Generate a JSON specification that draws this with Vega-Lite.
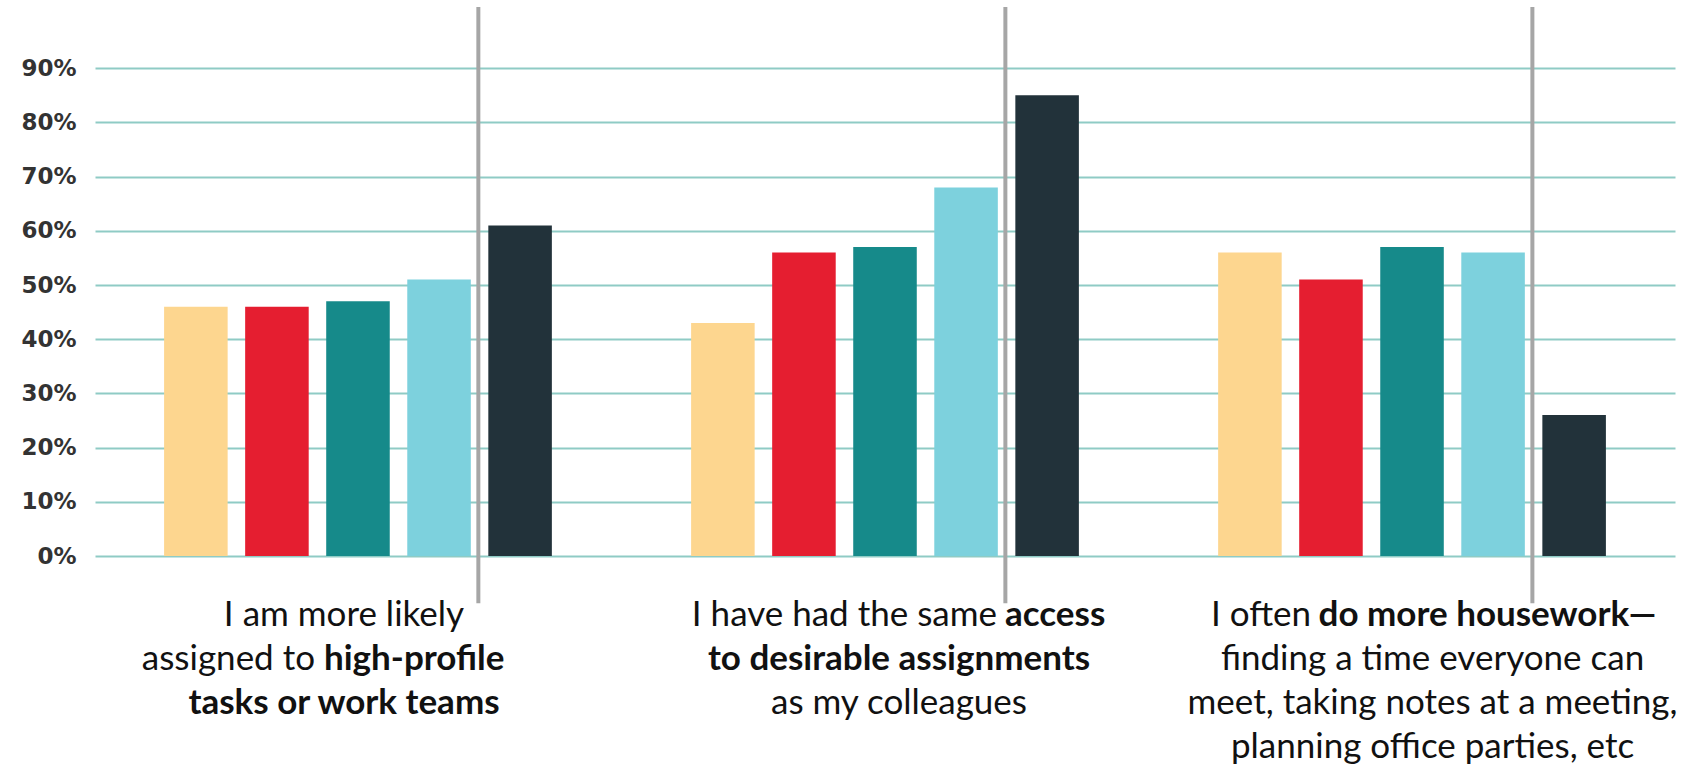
{
  "$schema": "https://vega.github.io/schema/vega-lite/v6.json",
  "width": 1580,
  "height": 542,
  "autosize": {"type": "none"},
  "padding": {"left": 95, "top": 14, "right": 28, "bottom": 211},
  "background": "white",
  "config": {"view": {"stroke": null}},
  "datasets": {
    "bars": [
      {"q": "High-profile tasks", "series": "Series 1", "value": 46},
      {"q": "High-profile tasks", "series": "Series 2", "value": 46},
      {"q": "High-profile tasks", "series": "Series 3", "value": 47},
      {"q": "High-profile tasks", "series": "Series 4", "value": 51},
      {"q": "High-profile tasks", "series": "Series 5", "value": 61},
      {"q": "Access to assignments", "series": "Series 1", "value": 43},
      {"q": "Access to assignments", "series": "Series 2", "value": 56},
      {"q": "Access to assignments", "series": "Series 3", "value": 57},
      {"q": "Access to assignments", "series": "Series 4", "value": 68},
      {"q": "Access to assignments", "series": "Series 5", "value": 85},
      {"q": "Housework", "series": "Series 1", "value": 56},
      {"q": "Housework", "series": "Series 2", "value": 51},
      {"q": "Housework", "series": "Series 3", "value": 57},
      {"q": "Housework", "series": "Series 4", "value": 56},
      {"q": "Housework", "series": "Series 5", "value": 26}
    ],
    "dividers": [
      {"q": "High-profile tasks"},
      {"q": "Access to assignments"},
      {"q": "Housework"}
    ],
    "labels": [
      {"q": "High-profile tasks", "line": 1, "part": "whole", "emphasis": false, "text": "I am more likely"},
      {"q": "High-profile tasks", "line": 2, "part": "lead", "emphasis": false, "text": "assigned to"},
      {"q": "High-profile tasks", "line": 2, "part": "tail", "emphasis": true, "text": "high-profile"},
      {"q": "High-profile tasks", "line": 3, "part": "whole", "emphasis": true, "text": "tasks or work teams"},
      {"q": "Access to assignments", "line": 1, "part": "lead", "emphasis": false, "text": "I have had the same"},
      {"q": "Access to assignments", "line": 1, "part": "tail", "emphasis": true, "text": "access"},
      {"q": "Access to assignments", "line": 2, "part": "whole", "emphasis": true, "text": "to desirable assignments"},
      {"q": "Access to assignments", "line": 3, "part": "whole", "emphasis": false, "text": "as my colleagues"},
      {"q": "Housework", "line": 1, "part": "lead", "emphasis": false, "text": "I often"},
      {"q": "Housework", "line": 1, "part": "tail", "emphasis": true, "text": "do more housework—"},
      {"q": "Housework", "line": 2, "part": "whole", "emphasis": false, "text": "finding a time everyone can"},
      {"q": "Housework", "line": 3, "part": "whole", "emphasis": false, "text": "meet, taking notes at a meeting,"},
      {"q": "Housework", "line": 4, "part": "whole", "emphasis": false, "text": "planning office parties, etc"}
    ]
  },
  "layer": [
    {
      "layer": [
        {
          "data": {"name": "bars"},
          "mark": {"type": "bar"},
          "encoding": {
            "x": {
              "field": "q", "type": "nominal",
              "scale": {"domain": ["High-profile tasks", "Access to assignments", "Housework"], "paddingInner": 0.231, "paddingOuter": 0.1145},
              "axis": null
            },
            "xOffset": {
              "field": "series", "type": "nominal",
              "scale": {"paddingInner": 0.216, "paddingOuter": 0.108}
            },
            "y": {
              "field": "value", "type": "quantitative",
              "scale": {"domain": [0, 100], "nice": false},
              "axis": {
                "values": [0, 10, 20, 30, 40, 50, 60, 70, 80, 90],
                "labelExpr": "datum.value + '%'",
                "title": null,
                "ticks": false,
                "domain": false,
                "grid": true,
                "gridColor": "#8fcbc5",
                "gridWidth": 2,
                "gridOpacity": 1,
                "labelFont": "DejaVu Sans",
                "labelFontWeight": "bold",
                "labelFontSize": 23,
                "labelColor": "#333333",
                "labelPadding": 19
              }
            },
            "color": {
              "field": "series", "type": "nominal",
              "scale": {
                "domain": ["Series 1", "Series 2", "Series 3", "Series 4", "Series 5"],
                "range": ["#fdd68f", "#e51e30", "#168a8a", "#7dd1dd", "#22323a"]
              },
              "legend": null
            }
          }
        },
        {
          "data": {"name": "dividers"},
          "mark": {"type": "rule", "color": "#a6a6a6", "strokeWidth": 4},
          "encoding": {
            "x": {"field": "q", "type": "nominal", "bandPosition": 0.797},
            "y": {"datum": 101.3},
            "y2": {"datum": -8.7}
          }
        }
      ]
    },
    {
      "data": {"name": "labels"},
      "encoding": {
        "x": {"field": "q", "type": "nominal"},
        "y": {
          "field": "line", "type": "quantitative",
          "scale": {"domain": [1, 4], "range": [612, 744], "nice": false, "zero": false},
          "axis": null
        },
        "text": {"field": "text"}
      },
      "layer": [
        {
          "transform": [{"filter": "!datum.emphasis"}],
          "mark": {
            "type": "text",
            "font": "Lato",
            "fontSize": 35,
            "fontWeight": "normal",
            "color": "#111111",
            "baseline": "alphabetic",
            "align": {"expr": "datum.part == 'lead' ? 'right' : datum.part == 'tail' ? 'left' : 'center'"},
            "dx": {"expr": "datum.q == 'High-profile tasks' ? (datum.part == 'lead' ? -43 : datum.part == 'tail' ? -34 : -14) : datum.q == 'Access to assignments' ? (datum.part == 'lead' ? 112 : datum.part == 'tail' ? 120 : 14) : (datum.part == 'lead' ? -101 : datum.part == 'tail' ? -93.5 : 20.5)"}
          }
        },
        {
          "transform": [{"filter": "datum.emphasis"}],
          "mark": {
            "type": "text",
            "font": "Lato",
            "fontSize": 35,
            "fontWeight": "bold",
            "color": "#111111",
            "baseline": "alphabetic",
            "align": {"expr": "datum.part == 'lead' ? 'right' : datum.part == 'tail' ? 'left' : 'center'"},
            "dx": {"expr": "datum.q == 'High-profile tasks' ? (datum.part == 'lead' ? -43 : datum.part == 'tail' ? -34 : -14) : datum.q == 'Access to assignments' ? (datum.part == 'lead' ? 112 : datum.part == 'tail' ? 120 : 14) : (datum.part == 'lead' ? -101 : datum.part == 'tail' ? -93.5 : 20.5)"}
          }
        }
      ]
    }
  ],
  "resolve": {"scale": {"y": "independent"}}
}
